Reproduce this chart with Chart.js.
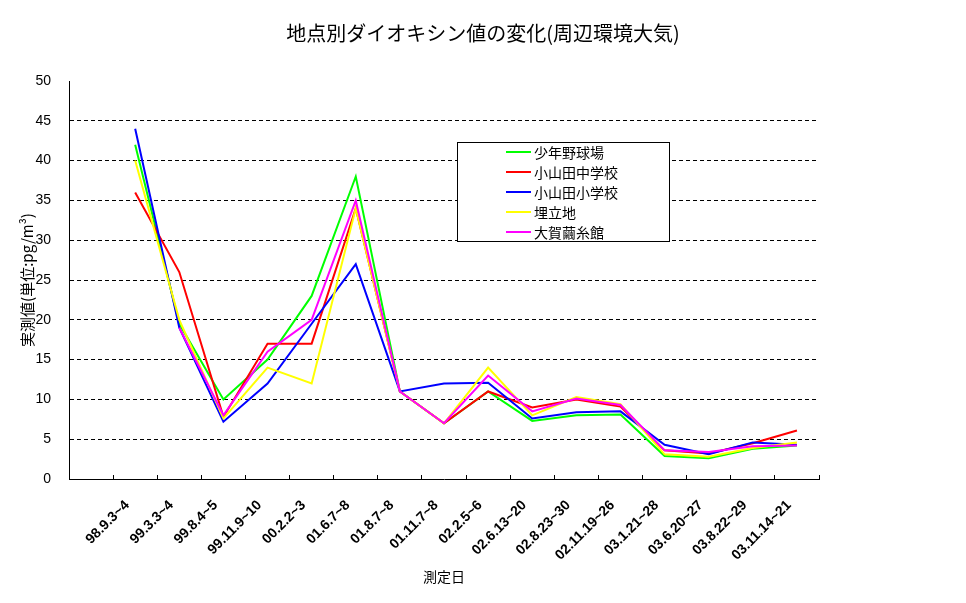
<!DOCTYPE html>
<html>
<head>
<meta charset="utf-8">
<script src="https://cdn.jsdelivr.net/npm/chart.js@4"></script>
<style>
  body { margin: 0; background: #fff; }
</style>
</head>
<body>
<canvas id="chart" width="966" height="603"></canvas>
<script>
// first category is empty in the original sheet
const categories = ["", "98.9.3~4", "99.3.3~4", "99.8.4~5", "99.11.9~10", "00.2.2~3", "01.6.7~8", "01.8.7~8",
    "01.11.7~8", "02.2.5~6", "02.6.13~20", "02.8.23~30", "02.11.19~26", "03.1.21~28", "03.6.20~27",
    "03.8.22~29", "03.11.14~21"]

const seriesNames = ["少年野球場", "小山田中学校", "小山田小学校", "埋立地", "大賀繭糸館"]
const seriesColors = ["#00ff00", "#ff0000", "#0000ff", "#ffff00", "#ff00ff"]

const shonen = [null, 42, 19.5, 10, 15, 23, 38, 11, 7, 11, 7.3, 8, 8.1, 2.9, 2.6, 3.8, 4.2]
const chugaku = [null, 36, 26, 7.8, 17, 17, 34, 11, 7, 11, 9, 10, 9.1, 3.6, 3.2, 4.5, 6.1]
const shogaku = [null, 44, 19, 7.2, 12, 19.5, 27, 11, 12, 12.1, 7.6, 8.4, 8.5, 4.3, 3.1, 4.6, 4.3]
const umetate = [null, 40, 20, 7.6, 14, 12, 34, 11, 7, 14, 8, 10.3, 9.4, 3.1, 2.8, 3.9, 4.6]
const mayuito = [null, null, 19, 8, 16, 20, 35, 11, 7, 13, 8.5, 10.1, 9.3, 3.6, 3.4, 4.1, 4.2]

const yMin = 0
const yMax = 50
const yStep = 5

const jpFont = "'Noto Sans CJK JP', 'Noto Sans', sans-serif"
const numFont = "'Liberation Sans', Arial, sans-serif"

const allSeries = [shonen, chugaku, shogaku, umetate, mayuito]

const datasets = allSeries.map((data, i) => ({
    label: seriesNames[i],
    data,
    borderColor: seriesColors[i],
    backgroundColor: seriesColors[i],
    borderWidth: 2,
    pointRadius: 0,
    tension: 0,
    fill: false,
    order: allSeries.length - i
}))

// legend box drawn inside the plot, like the original
const boxLegend = {
    id: "boxLegend",
    afterDraw(chart) {
        const ctx = chart.ctx
        const x = 457.5, y = 142.5, w = 212, h = 99
        ctx.save()
        ctx.fillStyle = "#fff"
        ctx.fillRect(x, y, w, h)
        ctx.strokeStyle = "#000"
        ctx.lineWidth = 1
        ctx.strokeRect(x, y, w, h)
        ctx.font = "14px " + jpFont
        ctx.textBaseline = "middle"
        chart.data.datasets.forEach((ds, i) => {
            const rowY = 152 + i * 20
            ctx.strokeStyle = ds.borderColor
            ctx.lineWidth = 2
            ctx.beginPath()
            ctx.moveTo(506, rowY)
            ctx.lineTo(531, rowY)
            ctx.stroke()
            ctx.fillStyle = "#000"
            ctx.fillText(ds.label, 534, rowY + 1)
        })
        ctx.restore()
    }
}

const ctx = document.getElementById("chart").getContext("2d")
const chart = new Chart(ctx, {
    type: "line",
    data: { labels: categories, datasets },
    plugins: [boxLegend],
    options: {
        responsive: false,
        animation: false,
        layout: { padding: 0 },
        plugins: {
            legend: { display: false },
            tooltip: { enabled: false },
            title: {
                display: true,
                text: "地点別ダイオキシン値の変化(周辺環境大気)",
                color: "#000",
                font: { family: jpFont, size: 20, weight: "normal" },
                padding: { top: 21, bottom: 36 }
            }
        },
        scales: {
            x: {
                offset: true,
                grid: {
                    offset: true,
                    drawOnChartArea: false,
                    tickLength: -4,
                    color: "#000"
                },
                border: { color: "#000", width: 1 },
                ticks: {
                    autoSkip: false,
                    minRotation: 45,
                    maxRotation: 45,
                    padding: 22,
                    labelOffset: -8,
                    color: "#000",
                    font: { family: numFont, size: 14, weight: "bold" }
                },
                title: {
                    display: true,
                    text: "測定日",
                    color: "#000",
                    font: { family: jpFont, size: 14 },
                    padding: { top: 4, bottom: 18 }
                },
                afterFit(scale) { scale.height = 124 }
            },
            y: {
                min: yMin,
                max: yMax,
                grid: {
                    drawTicks: false,
                    color: (c) => (c.tick.value === yMin || c.tick.value === yMax) ? "rgba(0,0,0,0)" : "#000"
                },
                border: { color: "#000", width: 1, dash: [4, 3] },
                ticks: {
                    stepSize: yStep,
                    padding: 18,
                    color: "#000",
                    font: { family: numFont, size: 14 }
                },
                title: {
                    display: true,
                    text: "実測値(単位:pg/m³)",
                    color: "#000",
                    font: { family: jpFont, size: 15 },
                    padding: { top: 18, bottom: 0 }
                },
                afterFit(scale) { scale.width = 69 }
            },
            // empty right-hand margin, keeps the title centred on the whole page
            margin: {
                position: "right",
                grid: { display: false },
                border: { display: false },
                ticks: { display: false },
                afterFit(scale) { scale.width = 147 }
            }
        }
    }
})
</script>
</body>
</html>
